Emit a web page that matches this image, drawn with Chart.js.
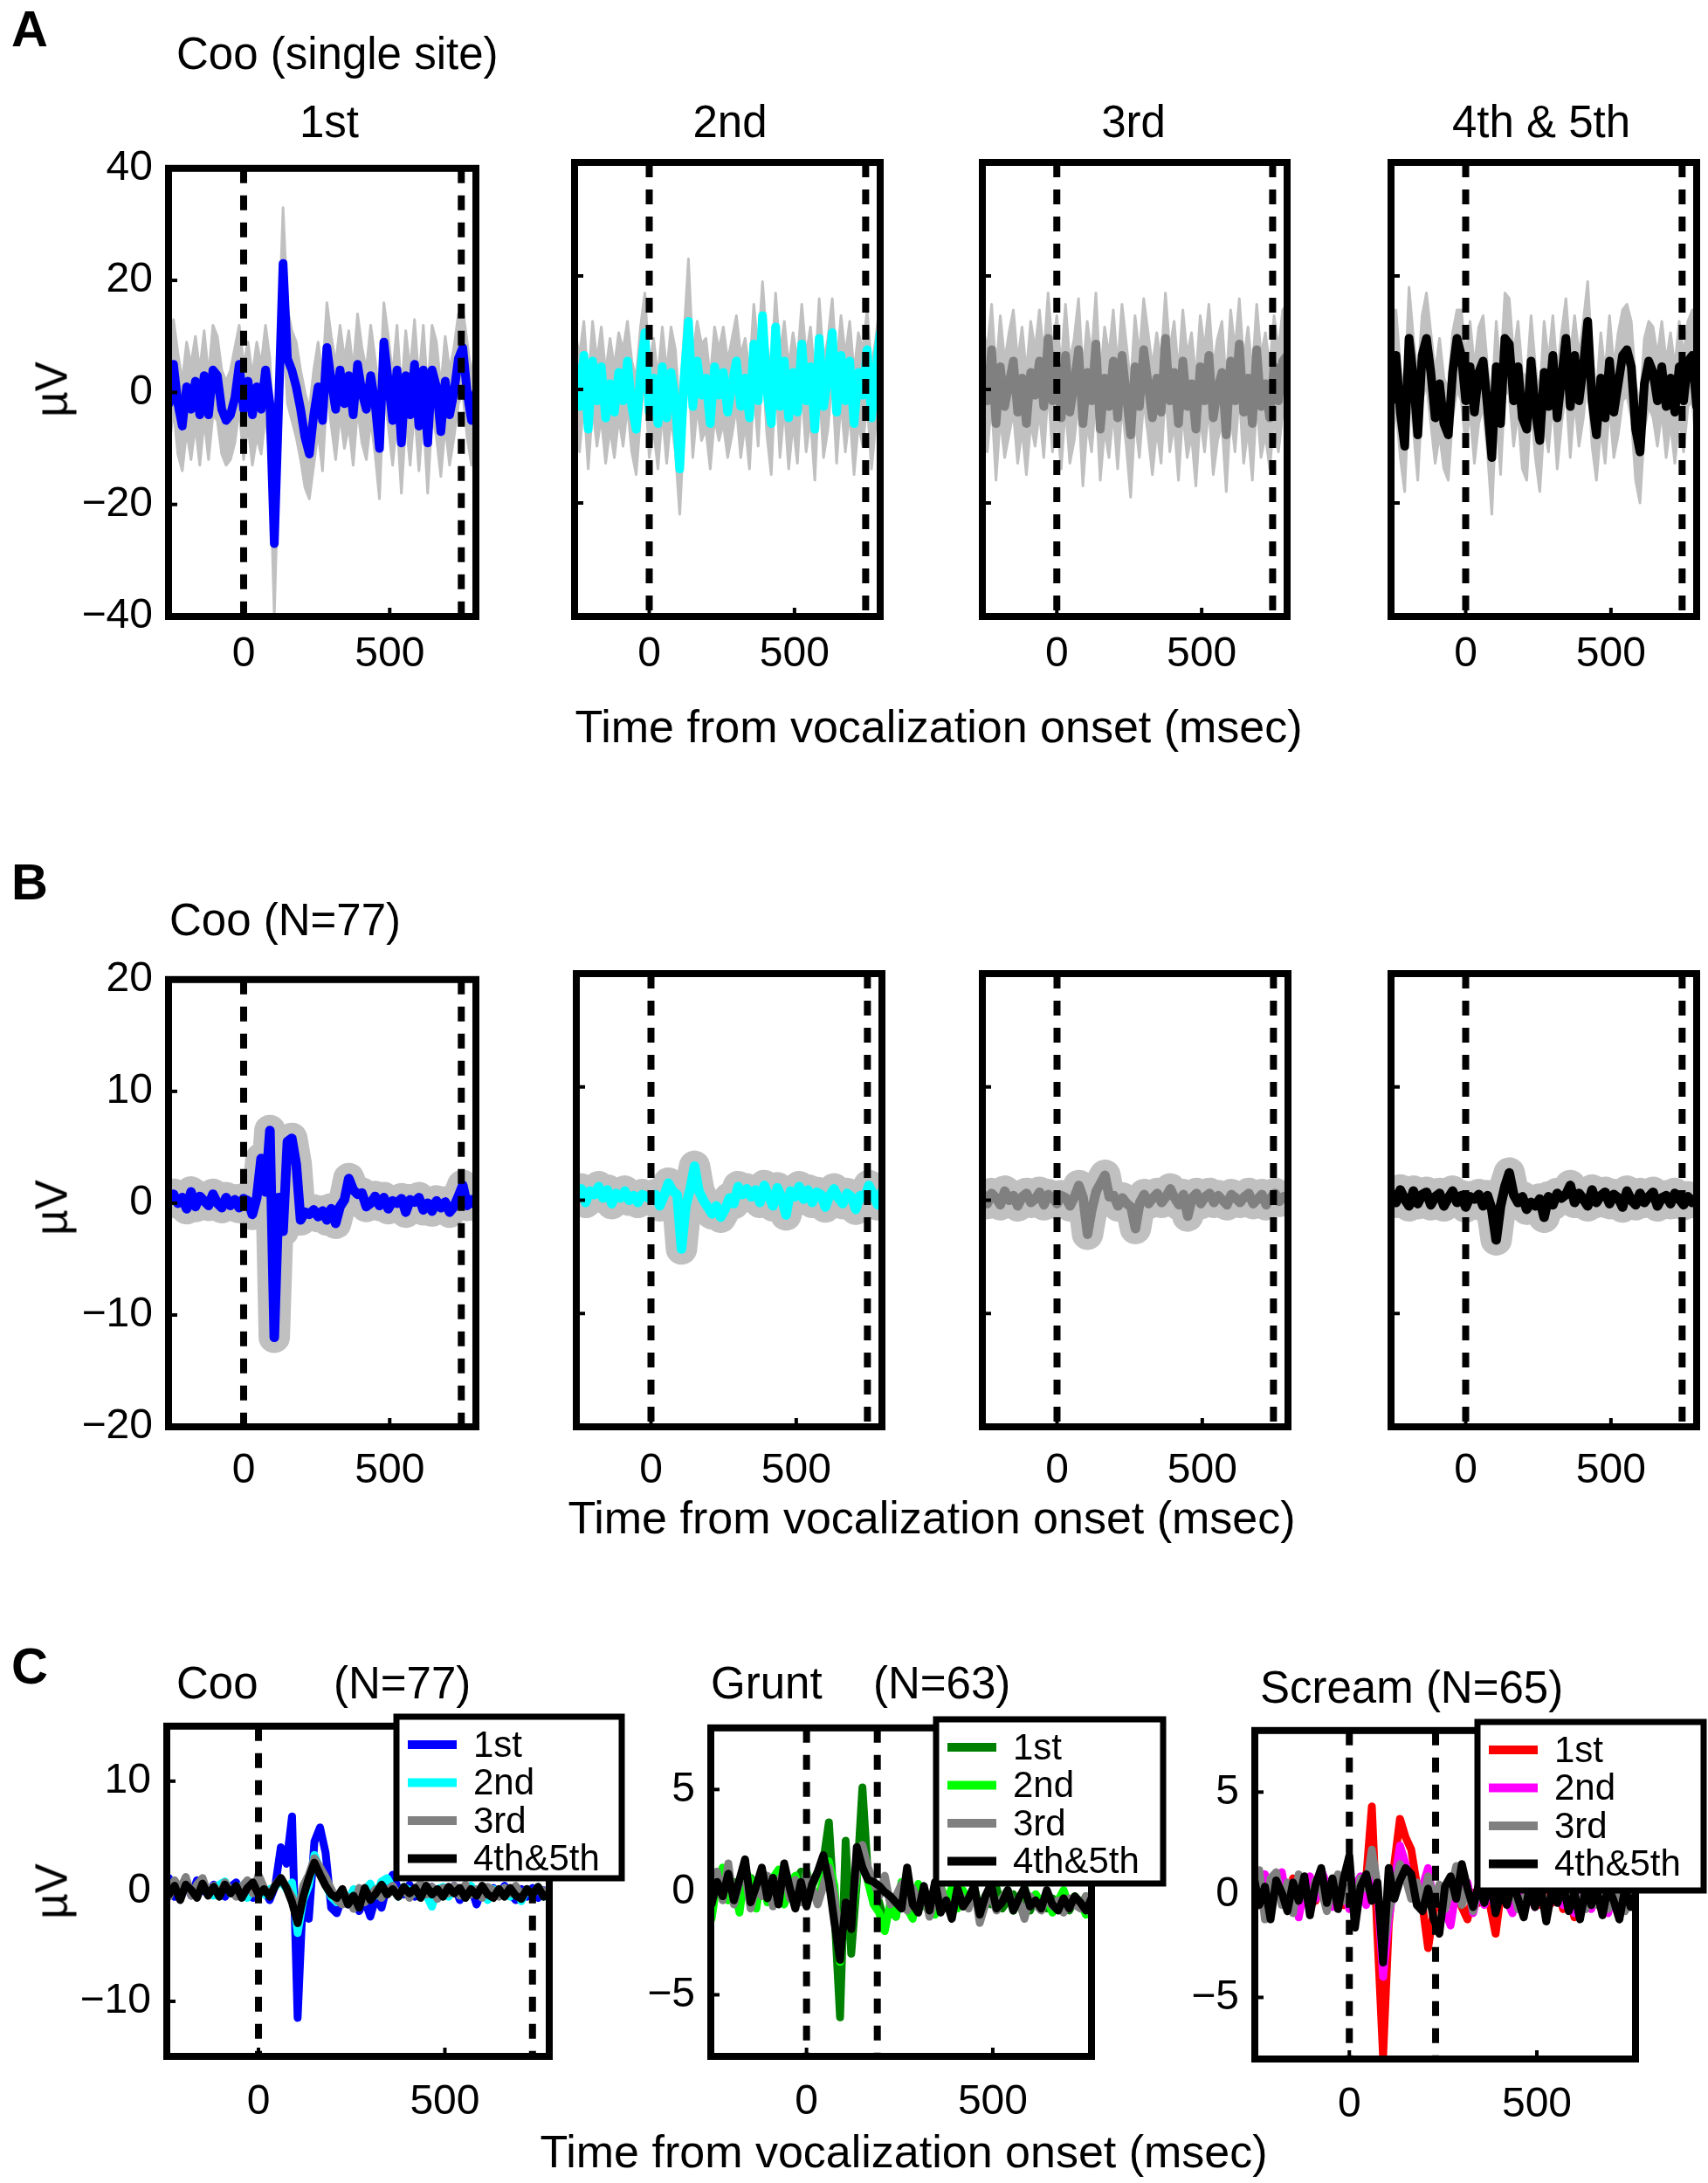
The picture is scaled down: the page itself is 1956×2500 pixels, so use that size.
<!DOCTYPE html>
<html>
<head>
<meta charset="utf-8">
<script src="https://cdn.jsdelivr.net/npm/chart.js@4.4.1/dist/chart.umd.min.js"></script>
<style>
html, body { margin: 0; padding: 0; background: #fff; }
#fig { position: relative; width: 1956px; height: 2500px; overflow: hidden; background: #fff;
       font-family: "Liberation Sans", Arial, Helvetica, sans-serif; color: #000; }
#fig canvas { position: absolute; }
.txt { position: absolute; white-space: nowrap; line-height: 1; }
</style>
</head>
<body>
<div id="fig"></div>
<script>
// time axis shared by every trace (msec from vocalization onset)
const timeMs = [
  -255, -240, -225, -210, -195, -180, -165, -150, -135, -120,
  -105, -90, -75, -60, -45, -30, -15, 0, 15, 30,
  45, 60, 75, 90, 105, 120, 135, 150, 165, 180,
  195, 210, 225, 240, 255, 270, 285, 300, 315, 330,
  345, 360, 375, 390, 405, 420, 435, 450, 465, 480,
  495, 510, 525, 540, 555, 570, 585, 600, 615, 630,
  645, 660, 675, 690, 705, 720, 735, 750, 765, 780,
  795
];

const xTickValues = [0, 500];
const aYTicks = [-40, -20, 0, 20, 40];
const bYTicks = [-20, -10, 0, 10, 20];
const c1YTicks = [-10, 0, 10];
const c23YTicks = [-5, 0, 5];

const rowTitlesA = ['1st', '2nd', '3rd', '4th & 5th'];
const legendLabels = ['1st', '2nd', '3rd', '4th&5th'];

// event markers (dashed lines), msec
const markersAB = [0, 745];
const markersC1 = [0, 735];
const markersC2 = [0, 190];
const markersC3 = [0, 230];

// ---------- A: Coo, single site (mean, upper and lower envelope) ----------
const a1Mean = [
  -2, 5, -2, -6, 1, -3, 2, -4, 3, -4,
  4, 3, -3, -5, -4, -1, 5, -3, 2, -4,
  1, -3, 4, -2, -27, -2, 23, 6, 4, 1,
  -3, -8, -11, -4, 1, -5, 8, 2, -3, 4,
  -2, 3, -4, 5, 0, -3, 3, -2, -10, 9,
  2, -5, 4, -9, 3, -4, 5, -6, 4, -9,
  4, 1, -7, 2, -4, 0, 6, 8, 0, -5,
  0
];
const a1Upper = [
  7, 13, 7, 2, 9, 5, 10, 4, 11, 3,
  12, 10, 4, 2, 4, 8, 12, 5, 9, 3,
  9, 5, 12, 6, -12, 10, 33, 15, 11, 9,
  4, 0, -3, 4, 9, 3, 16, 10, 5, 12,
  6, 11, 4, 14, 8, 4, 12, 6, -1, 16,
  10, 3, 12, 0, 11, 4, 13, 2, 12, 0,
  12, 9, 1, 10, 4, 8, 14, 15, 9, 3,
  9
];
const a1Lower = [
  -10, -3, -11, -14, -7, -12, -6, -13, -5, -12,
  -4, -5, -11, -13, -12, -9, -3, -12, -6, -13,
  -8, -11, -4, -12, -40, -12, 12, -2, -5, -8,
  -12, -17, -19, -13, -7, -14, 0, -6, -12, -4,
  -10, -6, -13, -3, -9, -12, -5, -11, -19, 1,
  -6, -13, -5, -18, -5, -13, -3, -14, -4, -18,
  -4, -8, -15, -6, -13, -8, -2, 0, -8, -13,
  -9
];

const a2Mean = [
  4, -3, 6, -7, 5, -2, 4, -5, 1, -4,
  3, -2, 5, -3, -7, 3, 10, -4, 2, -6,
  4, -5, 3, -2, -14, 2, 12, -3, 5, -1,
  2, -6, 4, -1, 3, -4, 1, 5, -3, 2,
  -5, 8, -2, 13, 0, -6, 11, -3, 5, -5,
  3, -4, 8, -2, 4, -7, 9, -3, 2, 10,
  -4, 6, -2, 5, -6, 3, -1, 7, -5, 3,
  10
];
const a2Upper = [
  10, 6, 12, 1, 12, 5, 11, 3, 9, 4,
  10, 7, 12, 5, 2, 11, 17, 4, 9, 2,
  11, 3, 11, 7, -4, 10, 23, 6, 12, 8,
  9, 2, 11, 7, 11, 5, 9, 13, 6, 9,
  3, 15, 7, 19, 8, 3, 17, 6, 12, 4,
  10, 5, 15, 6, 11, 2, 16, 5, 9, 16,
  4, 13, 6, 12, 3, 10, 7, 14, 4, 9,
  16
];
const a2Lower = [
  -4, -11, -2, -14, -3, -10, -5, -13, -7, -12,
  -5, -10, -3, -11, -15, -5, 2, -12, -7, -14,
  -4, -13, -5, -11, -22, -7, 4, -12, -3, -9,
  -7, -14, -5, -9, -6, -12, -8, -3, -12, -6,
  -14, 0, -10, 5, -8, -15, 3, -12, -3, -14,
  -6, -13, 0, -11, -5, -16, 1, -12, -7, 2,
  -13, -2, -11, -4, -15, -6, -10, -2, -14, -6,
  2
];

const a3Mean = [
  3, -2, 7, -6, 4, -3, 1, 5, -4, 2,
  -6, 3, -1, 5, -3, 9, -2, 4, -5, 6,
  -4, 1, 7, -6, 3, -2, 8, -7, 2, -3,
  5, -5, 6, -1, -8, 4, -3, 7, 1, -5,
  2, -4, 9, -2, 3, -6, 5, -3, 1, -7,
  4, -2, 6, -5, 0, 3, -8, 5, -2, 8,
  -4, 2, -6, 7, -3, 1, -5, 4, -2, 5,
  6
];
const a3Upper = [
  11, 7, 15, 3, 13, 5, 10, 14, 5, 11,
  3, 12, 7, 14, 6, 17, 7, 13, 4, 15,
  5, 9, 16, 3, 12, 6, 17, 2, 11, 6,
  14, 4, 15, 8, 1, 13, 6, 16, 10, 4,
  10, 5, 17, 7, 12, 3, 14, 6, 10, 2,
  13, 7, 15, 4, 9, 12, 1, 14, 7, 16,
  5, 11, 3, 15, 6, 10, 4, 13, 7, 14,
  15
];
const a3Lower = [
  -6, -11, -2, -16, -5, -12, -8, -4, -13, -7,
  -15, -6, -10, -4, -12, 0, -11, -5, -14, -3,
  -13, -9, -2, -17, -6, -11, -1, -16, -7, -12,
  -4, -14, -3, -10, -19, -5, -12, -2, -8, -15,
  -7, -13, 0, -11, -6, -16, -4, -12, -8, -17,
  -5, -11, -3, -15, -9, -6, -18, -4, -11, -1,
  -13, -7, -16, -2, -12, -8, -14, -5, -11, -4,
  -3
];

const a4Mean = [
  -2, 6, -4, -10, 9, 2, -8, 6, 9, 3,
  -5, 1, -6, -8, 3, 9, 6, -2, 4, -4,
  3, 5, -3, -12, 4, -6, 9, 8, -2, 4,
  -5, -7, 5, -4, -9, 3, -3, 6, -5, 2,
  9, -3, 6, -2, 4, 12, -2, -8, 2, -5,
  5, -4, 1, 6, 7, 4, -7, -11, 1, 5,
  3, -2, 4, -3, 2, -4, 4, -2, 5, 6,
  -3
];
const a4Upper = [
  5, 14, 4, -1, 18, 9, 2, 13, 17, 10,
  3, 9, 2, 0, 10, 14, 14, 6, 12, 4,
  11, 13, 4, -2, 12, 3, 17, 16, 6, 12,
  3, 2, 13, 4, -1, 12, 5, 13, 3, 10,
  16, 6, 13, 6, 12, 19, 6, -1, 10, 3,
  13, 4, 10, 14, 15, 12, 1, -3, 9, 12,
  11, 6, 12, 5, 10, 4, 12, 6, 12, 14,
  5
];
const a4Lower = [
  -10, -3, -12, -18, 0, -7, -16, -2, 1, -6,
  -13, -8, -14, -16, -5, 0, -2, -10, -4, -13,
  -6, -3, -11, -22, -4, -15, 0, -1, -10, -4,
  -14, -16, -3, -12, -18, -6, -11, -2, -14, -6,
  0, -12, -2, -10, -5, 3, -10, -16, -7, -13,
  -3, -12, -8, -2, -1, -5, -16, -20, -7, -3,
  -5, -10, -4, -12, -6, -13, -5, -11, -3, -2,
  -11
];

// ---------- B: Coo, population average (N=77) ----------
const b1Mean = [
  0.5, 0.8, 0, 0.5, -0.5, 1, -0.3, 0.6, 0.2, -0.2,
  0.8, 0, -0.4, 0.5, -0.2, 0.3, -0.4, 0.4, 0.2, -1,
  0.5, 4, 1, 6.5, -12, 0.5, -2.5, 5.5, 5.8, 3.5,
  -1.5, -0.8, -1, -0.6, -1.2, -0.7, -1.5, -0.5, -1.8, -0.3,
  0.3, 2.2, 1.2, 0.8, 0.9, -0.3, 0, 0.6, -0.2, 0.5,
  -0.5, 0.2, 0, 0.4, -0.8, 0.3, 0.1, 0.5, -0.6, 0,
  -0.7, 0.2, -0.4, 0.1, -0.8, -0.3, 0.6, 1.6, -0.2, 0.3,
  -0.2
];
const b2Mean = [
  0.3, 1.0, -0.2, 0.8, 0.5, 1.2, 0.2, 0.9, -0.3, 0.6,
  0.2, 0.8, 0, 0.4, -0.2, 0.5, 0.3, 0.1, 0.5, -0.5,
  0.4, 1.5, 0.8, 0.5, -4.3, -0.5, 1.0, 3.0, 0.8, 0,
  -0.6, -1.2, -0.5, -1.5, -0.8, 0.2, -0.3, 1.2, 0.5, 1.0,
  0.3, 0.9, -0.2, 1.3, 0.4, -0.5, 1.1, 0.2, -1.3, 0.8,
  0.3, 1.2, 0.1, 0.9, -0.2, 0.7, 0.5, -0.6, 0.4, 1.0,
  0.2, -0.3, 0.6, 0.3, -0.8, 0.4, 0.2, 1.3, 0.5, -0.4,
  0.8
];
const b3Mean = [
  0.5, -0.3, 0.6, 0.2, -0.4, 0.8, 0, 0.4, -0.5, 0.3,
  0.6, -0.2, 0.1, 0.7, -0.4, 0.5, 0.2, -0.3, 0.4, 0.2,
  -0.5, 0.3, 1.3, 0.2, -3.0, -0.8, 0.8, 1.5, 2.2, 0.3,
  0.4, -0.5, 0.2, -0.3, -0.6, -2.5, -0.2, 0.5, -0.3, 0.2,
  0.6, -0.2, 0.3, 1.0, 0.2, -0.4, 0.5, -1.4, 0.2, 0.6,
  -0.3, 0.3, 0.6, -0.2, 0.4, 0, -0.4, 0.5, 0.2, -0.2,
  0.3, 0.6, -0.3, 0.1, 0.5, -0.4, 0.2, 0.6, -0.1, 0.3,
  0.4
];
const b4Mean = [
  0.6, -0.2, 0.9, 0.1, -0.5, 0.8, -0.3, 0.5, 0.7, -0.4,
  0.3, 0.6, -0.5, 0.2, 0.8, -0.2, 0.4, -0.6, 0.3, 0.1,
  0.5, -0.5, 0.4, -0.8, -3.5, -0.5, 1.2, 2.4, 0.5, -0.2,
  0.3, -0.8, -0.2, -0.5, 0.1, -1.5, 0.3, -0.4, 0.6, 0.2,
  0.5, 1.3, -0.2, 0.6, 0.1, -0.5, 0.9, -0.2, 0.4, 0.7,
  -0.3, 0.5, 0.2, -0.6, 0.8, 0, -0.4, 0.6, -0.2, 0.3,
  0.7, -0.5, 0.2, 0.4, -0.3, 0.6, 0.1, -0.4, 0.3, -0.2,
  0.2
];

// ---------- C: population averages per call type ----------
const cooFirst = [
  0.5, 1.2, -0.5, 0.3, 0.8, -0.4, 1.0, 0.2, -0.3, 0.6,
  0.1, -0.5, 0.4, 0.8, -0.2, 0.3, -0.6, 0.5, 0.2, -0.8,
  0.5, 4.0, 2.5, 6.8, -11.5, 0.2, -2.5, 4.5, 5.8, 3.5,
  -1.5, -2.0, -0.5, -1.2, -0.3, -1.8, -0.8, -2.3, -0.5, -1.5,
  0.5, 1.5, 0.2, -0.3, 0.6, -0.5, 0.3, -0.2, 0.4, -0.6,
  0.2, -0.4, 0.5, -0.8, 0.1, 0.4, -1.2, 0.2, -0.5, 0.3,
  -0.3, 0.5, -0.2, -0.8, 0.2, -0.5, 0.3, -0.6, 0.1, -0.3,
  0
];
const cooSecond = [
  -0.8, 0.4, 0.9, -0.3, 0.5, 0.2, -0.5, 0.8, 0.1, -0.4,
  0.6, 0.9, -0.2, 0.3, 0.5, -0.6, 0.4, 0.7, -0.3, 0.2,
  0.4, 1.0, 0.2, 0.8, -3.8, -0.8, 0.5, 3.3, 2.0, 0.6,
  -0.5, -1.0, -0.3, -0.9, 0.2, -0.6, 0.1, 0.7, -0.4, 0.9,
  1.2, 0.3, -0.5, 0.4, 0.1, -0.2, 0.5, -0.3, -1.4, 0.2,
  0.4, -0.5, 0.3, 0.0, -0.6, 0.5, -0.2, 0.3, -0.8, 0.2,
  -0.4, 0.3, -0.5, 0.1, -0.9, 0.2, -0.3, 0.4, -0.5, -0.2,
  0.3
];
const cooThird = [
  0.3, -0.5, 1.0, 0.2, 1.3, -0.4, 0.6, 1.2, -0.2, 0.5,
  -0.3, 0.8, 0.1, -0.5, 0.4, 1.0, -0.2, 1.5, 0.3, -0.4,
  0.6, 1.2, 0.4, -0.5, -2.0, 0.5, 1.5, 3.0, 2.2, 1.3,
  0.2, -0.8, -1.2, -0.5, -1.6, 0.3, -1.0, -0.4, 0.2, -0.6,
  0.1, 0.5, -0.4, 0.3, -0.6, 0.2, 0.7, -0.3, 0.4, -0.7,
  0.3, -0.2, 0.5, -0.4, 0.6, -0.3, 0.2, -0.6, 0.4, 0.1,
  -0.5, 0.3, -0.2, 0.5, -0.4, 0.2, -0.3, 0.4, -0.1, 0.2,
  -0.2
];
const cooLater = [
  0.8, -0.3, 0.5, -0.8, 0.6, 0.1, -0.6, 0.7, -0.4, 0.4,
  -0.5, 0.6, -0.2, 0.5, -0.6, 0.3, 0.8, -0.3, 0.2, -0.5,
  0.5, 1.2, 0.3, -1.0, -2.9, -0.5, 1.2, 2.6, 1.5, 0.5,
  -0.3, -0.6, 0.2, -1.2, -0.4, -1.5, 0.3, -0.8, -0.2, 0.6,
  -0.3, 0.2, -0.5, 0.4, -0.2, 0.3, -0.6, 0.5, -0.3, 0.2,
  -0.5, 0.4, -0.2, 0.3, -0.6, 0.2, -0.4, 0.5, -0.3, -0.6,
  0.2, -0.5, 0.3, -0.4, -0.7, 0.2, -0.3, 0.4, -0.5, -0.2,
  0.1
];

const gruntFirst = [
  -0.5, 0.4, 0.8, -0.3, 0.5, -0.6, 0.2, 0.7, -0.4, 0.3,
  0.6, -0.5, 0.1, 0.8, -0.3, 0.4, 1.0, -0.2, 0.3, 0.9,
  1.5, 3.4, -1.0, -6.1, 2.5, -3.0, 0.5, 5.1, 0.8, 0.3,
  -0.5, -1.5, -0.8, -1.2, 0.3, -0.6, -0.9, 0.2, -0.5, -1.0,
  0.4, -0.8, -0.3, -1.0, 0.2, -0.7, -0.4, 0.1, -0.9, -0.3,
  -0.6, 0.2, -0.8, -0.4, -0.1, -0.7, -0.3, -0.9, -0.2, -0.5,
  -0.8, -0.3, -0.6, -0.1, -0.9, -0.4, -0.7, -0.2, -0.6, -0.5,
  -0.4
];
const gruntSecond = [
  -1.3, 0.5, 1.2, -0.4, 0.3, -1.0, 1.0, 0.6, -0.8, 0.9,
  -0.5, 0.7, 1.1, -0.6, 0.4, 0.8, -0.3, 1.0, 0.2, -0.4,
  0.6, 1.5, 0.3, -3.4, -0.8, -1.5, 0.8, 1.8, 0.5, -0.6,
  -1.0, -1.9, -0.5, -1.2, 0.5, -0.8, -1.3, 0.4, -0.6, -0.2,
  -1.1, 0.3, -0.5, 0.2, -0.8, 0.1, -0.6, 0.3, -1.0, -0.2,
  0.2, -0.7, -0.3, 0.1, -0.9, -0.4, 0.2, -0.6, -0.1, -0.5,
  -0.3, -1.0, -0.4, 0.1, -0.7, -0.2, -0.5, -1.1, -0.3, -0.6,
  -0.7
];
const gruntThird = [
  0.2, 1.0, -0.4, 1.4, -0.6, 0.5, 0.9, -0.8, 0.3, -0.2,
  0.8, -0.7, 0.4, 1.1, -0.3, 0.6, -0.5, 0.9, 0.2, -0.6,
  0.3, 1.2, -0.2, -2.8, -0.5, -0.9, 1.0, 2.3, 1.2, 0.5,
  -0.2, 0.8, -0.6, -0.2, 0.4, -0.9, 0.2, -0.5, 0.1, -1.2,
  -0.3, 0.2, -0.6, -1.0, 0.1, -0.4, -0.8, 0.3, -1.5, -0.6,
  -0.1, -0.9, -0.3, 0.1, -0.7, -0.4, -1.3, -0.2, -0.6, -0.9,
  -0.2, -0.7, -0.4, -1.0, -0.3, -0.6, -0.8, -0.2, -1.1, -0.5,
  -0.8
];
const gruntLater = [
  -0.6, 0.5, -0.2, 0.9, -0.4, 0.6, 1.6, -0.5, 0.3, 1.2,
  -0.3, 0.7, -0.6, 1.4, 0.2, -0.8, 0.5, -0.7, 0.4, 1.0,
  1.8, 0.5, -1.5, -3.3, -0.5, -1.8, 2.2, 1.2, 0.6, 0.5,
  0.3, 0.0, -0.2, -0.5, -0.8, 1.2, -0.6, -1.0, 0.3, -0.9,
  0.5, -1.0, -0.4, -1.3, 0.2, -0.7, -0.3, 0.3, -1.1, -0.2,
  0.4, -0.8, -0.5, 0.1, -0.9, -0.3, 0.2, -0.7, -0.4, -0.8,
  0.1, -0.6, -0.9, -0.3, -0.8, -0.2, -0.5, -0.9, -0.3, -0.6,
  -0.4
];

const screamFirst = [
  0.4, -0.5, 0.3, -0.8, 0.6, 0.1, -0.4, 0.8, -0.6, 0.2,
  0.5, -0.3, 0.6, -0.7, 0.3, 0.4, -0.5, 0.2, -0.3, 0.4,
  0.8, 4.3, -2.0, -7.9, -1.5, 1.5, 3.7, 2.8, 2.2, 0.5,
  -0.5, -2.6, -0.8, -0.2, 0.4, -0.3, 0.2, -0.6, -1.2, 0.1,
  -0.4, 0.3, -0.5, -1.9, 0.2, -0.3, 0.5, -0.6, 0.1, -0.2,
  0.3, -0.5, 0.2, -0.4, 0.4, -0.7, 0.1, -1.1, 0.3, -0.2,
  -0.5, 0.2, -0.3, 0.4, -0.6, 0.1, -0.2, 0.3, -0.4, 0.2,
  0
];
const screamSecond = [
  0.8, 0.3, 1.0, -0.5, 0.7, 1.1, -0.4, 0.6, -1.1, 0.3,
  0.9, -0.2, 1.2, 0.5, -0.6, 0.8, 0.2, -0.7, 0.4, 0.9,
  -0.5, 1.0, 0.2, -4.0, -1.2, 0.6, 2.4, 1.5, 0.5, -0.3,
  0.4, 1.3, -0.5, 0.2, -0.8, -1.5, 0.3, -0.4, 0.6, -0.9,
  0.2, -0.5, 0.4, -0.8, 0.1, -0.3, -0.9, 0.5, -0.4, 0.2,
  -0.6, 0.3, -0.8, -0.2, 0.4, -0.5, 0.1, -0.9, 0.2, -0.3,
  -0.7, 0.2, -0.4, -0.9, 0.3, -0.2, -0.6, 0.1, -0.5, -0.3,
  -0.1
];
const screamThird = [
  -0.3, 1.2, -1.2, 0.8, 1.1, -0.5, 0.6, -0.9, 1.0, 0.2,
  -0.6, 0.7, 0.3, -0.8, 0.5, 1.0, -0.3, 0.4, -0.5, 0.8,
  0.3, 2.2, 0.5, -2.8, -0.8, 0.3, 1.5, 0.8, -0.2, 0.6,
  -0.4, 0.9, -0.3, 0.5, -0.7, 0.2, 1.4, -0.5, 0.3, -0.8,
  0.4, -0.3, 0.6, -0.6, 0.2, -0.4, 0.5, -0.7, -0.2, 0.3,
  -0.5, 0.4, -0.8, 0.1, -0.3, 0.5, -0.6, 0.2, -0.4, -0.7,
  0.3, -0.5, 0.1, -0.7, 0.2, -0.3, -0.8, 0.4, -0.2, -0.5,
  0.1
];
const screamLater = [
  0.9, -0.5, 0.4, -1.2, 0.7, 0.1, -0.8, 0.6, -0.3, 0.9,
  -1.0, 0.5, 1.3, -0.4, 0.8, -0.7, 0.8, 1.9, -1.6, 0.4,
  1.0, -0.3, 0.6, -3.3, 1.3, -0.2, 0.7, 1.3, 1.0, -0.5,
  -0.8, 0.3, -1.2, -1.9, 0.4, 0.9, -0.2, 1.5, 0.3, -0.6,
  0.5, -0.4, 0.8, -0.9, 0.2, -0.5, 0.6, -0.2, -1.1, 0.3,
  -0.6, 0.4, -1.3, 0.2, -0.4, 0.5, -0.8, 0.1, -1.2, 0.3,
  -0.5, 0.2, -1.0, 0.4, -0.3, -1.2, 0.3, -0.6, 0.1, 0.4,
  0.2
];

// ---------- layout & styles ----------
const FONT = '"Liberation Sans", Arial, Helvetica, sans-serif';
const BAND = '#c0c0c0';
const fig = document.getElementById('fig');

const panels = [
  { id: 'A1', box: [193, 186, 545, 706], xr: [-257, 795], yr: [-40, 40], yTicks: aYTicks, yLabels: true, marks: markersAB, lw: 10, tickPad: 15,
    traces: [{ label: rowTitlesA[0], data: a1Mean, color: '#0000ff' }], band: [a1Upper, a1Lower] },
  { id: 'A2', box: [658, 186, 1008, 706], xr: [-257, 795], yr: [-40, 40], yTicks: aYTicks, yLabels: false, marks: markersAB, lw: 10, tickPad: 15,
    traces: [{ label: rowTitlesA[1], data: a2Mean, color: '#00ffff' }], band: [a2Upper, a2Lower] },
  { id: 'A3', box: [1125, 186, 1474, 706], xr: [-257, 795], yr: [-40, 40], yTicks: aYTicks, yLabels: false, marks: markersAB, lw: 10, tickPad: 15,
    traces: [{ label: rowTitlesA[2], data: a3Mean, color: '#808080' }], band: [a3Upper, a3Lower] },
  { id: 'A4', box: [1593, 186, 1943, 706], xr: [-257, 795], yr: [-40, 40], yTicks: aYTicks, yLabels: false, marks: markersAB, lw: 10, tickPad: 15,
    traces: [{ label: rowTitlesA[3], data: a4Mean, color: '#000000' }], band: [a4Upper, a4Lower] },

  { id: 'B1', box: [193, 1115, 545, 1634], xr: [-257, 795], yr: [-20, 20], yTicks: bYTicks, yLabels: true, marks: markersAB, lw: 11, tickPad: 22,
    traces: [{ label: rowTitlesA[0], data: b1Mean, color: '#0000ff' }], sem: 36 },
  { id: 'B2', box: [660, 1115, 1010, 1634], xr: [-257, 795], yr: [-20, 20], yTicks: bYTicks, yLabels: false, marks: markersAB, lw: 11, tickPad: 22,
    traces: [{ label: rowTitlesA[1], data: b2Mean, color: '#00ffff' }], sem: 36 },
  { id: 'B3', box: [1125, 1115, 1475, 1634], xr: [-257, 795], yr: [-20, 20], yTicks: bYTicks, yLabels: false, marks: markersAB, lw: 11, tickPad: 22,
    traces: [{ label: rowTitlesA[2], data: b3Mean, color: '#808080' }], sem: 36 },
  { id: 'B4', box: [1593, 1115, 1943, 1634], xr: [-257, 795], yr: [-20, 20], yTicks: bYTicks, yLabels: false, marks: markersAB, lw: 11, tickPad: 22,
    traces: [{ label: rowTitlesA[3], data: b4Mean, color: '#000000' }], sem: 36 },

  { id: 'C1', box: [191, 1970, 629, 2355], xr: [-246, 780], yr: [-15, 15], yTicks: c1YTicks, yLabels: true, marks: markersC1, lw: 9, tickPad: 24,
    legend: [454, 1966, 712, 2151],
    traces: [
      { label: legendLabels[0], data: cooFirst, color: '#0000ff' },
      { label: legendLabels[1], data: cooSecond, color: '#00ffff' },
      { label: legendLabels[2], data: cooThird, color: '#808080' },
      { label: legendLabels[3], data: cooLater, color: '#000000' }] },
  { id: 'C2', box: [814, 1972, 1250, 2355], xr: [-257, 765], yr: [-8, 8], yTicks: c23YTicks, yLabels: true, marks: markersC2, lw: 9, tickPad: 24,
    legend: [1072, 1969, 1332, 2157],
    traces: [
      { label: legendLabels[0], data: gruntFirst, color: '#008000' },
      { label: legendLabels[1], data: gruntSecond, color: '#00ff00' },
      { label: legendLabels[2], data: gruntThird, color: '#808080' },
      { label: legendLabels[3], data: gruntLater, color: '#000000' }] },
  { id: 'C3', box: [1437, 1975, 1873, 2358], xr: [-252, 763], yr: [-8, 8], yTicks: c23YTicks, yLabels: true, marks: markersC3, lw: 9, tickPad: 24,
    legend: [1692, 1972, 1951, 2165],
    traces: [
      { label: legendLabels[0], data: screamFirst, color: '#ff0000' },
      { label: legendLabels[1], data: screamSecond, color: '#ff00ff' },
      { label: legendLabels[2], data: screamThird, color: '#808080' },
      { label: legendLabels[3], data: screamLater, color: '#000000' }] }
];

function pts(vals) {
  return vals.map((v, i) => ({ x: timeMs[i], y: v }));
}

function minusSign(v) {
  return String(v).replace('-', '\u2212');
}

// dashed markers, box frame, inner ticks and the floating legend
function framePlugin(p, ox, oy) {
  return {
    id: 'frame' + p.id,
    afterDatasetsDraw(chart) {
      const ctx = chart.ctx;
      const a = chart.chartArea;
      const xs = chart.scales.x, ys = chart.scales.y;
      ctx.save();
      ctx.strokeStyle = '#000';
      ctx.lineWidth = 8;
      ctx.setLineDash([17, 14]);
      p.marks.forEach(m => {
        const px = xs.getPixelForValue(m);
        ctx.beginPath(); ctx.moveTo(px, a.top); ctx.lineTo(px, a.bottom); ctx.stroke();
      });
      ctx.setLineDash([]);
      ctx.lineWidth = 4;
      ys.ticks.forEach(t => {
        const py = ys.getPixelForValue(t.value);
        ctx.beginPath(); ctx.moveTo(a.left, py); ctx.lineTo(a.left + 10, py); ctx.stroke();
      });
      xs.ticks.forEach(t => {
        const px = xs.getPixelForValue(t.value);
        ctx.beginPath(); ctx.moveTo(px, a.bottom); ctx.lineTo(px, a.bottom - 10); ctx.stroke();
      });
      ctx.lineWidth = 8;
      ctx.strokeRect(a.left, a.top, a.right - a.left, a.bottom - a.top);

      if (p.legend) {
        const L = p.legend;
        const lx = L[0] - ox, ly = L[1] - oy, lw = L[2] - L[0], lh = L[3] - L[1];
        ctx.fillStyle = '#fff';
        ctx.fillRect(lx, ly, lw, lh);
        ctx.lineWidth = 7;
        ctx.strokeRect(lx, ly, lw, lh);
        ctx.font = '42px ' + FONT;
        ctx.textBaseline = 'middle';
        chart.data.datasets.filter(d => d.inLegend).forEach((d, k) => {
          const ry = ly + 32 + k * 43.5;
          ctx.strokeStyle = d.borderColor;
          ctx.lineWidth = 10;
          ctx.beginPath(); ctx.moveTo(lx + 13, ry); ctx.lineTo(lx + 69, ry); ctx.stroke();
          ctx.fillStyle = '#000';
          ctx.fillText(d.label, lx + 88, ry + 2);
        });
      }
      ctx.restore();
    }
  };
}

function makePanel(p) {
  const padL = p.yLabels ? 150 : 20;
  const padT = 40;
  const padR = p.legend ? 90 : 20;
  const padB = 90;
  const bw = p.box[2] - p.box[0], bh = p.box[3] - p.box[1];
  const ox = p.box[0] - padL, oy = p.box[1] - padT;

  const cv = document.createElement('canvas');
  cv.width = bw + padL + padR;
  cv.height = bh + padT + padB;
  cv.style.left = ox + 'px';
  cv.style.top = oy + 'px';
  cv.style.width = cv.width + 'px';
  cv.style.height = cv.height + 'px';
  fig.appendChild(cv);

  const n = p.traces.length;
  const datasets = p.traces.map((tr, k) => ({
    label: tr.label,
    data: pts(tr.data),
    borderColor: tr.color,
    borderWidth: p.lw,
    inLegend: true,
    order: n - 1 - k,
    clip: 0
  }));
  if (p.band) {
    datasets.push({ data: pts(p.band[0]), borderColor: BAND, backgroundColor: BAND, borderWidth: 3, fill: '+1', order: 20, clip: 0 });
    datasets.push({ data: pts(p.band[1]), borderColor: BAND, borderWidth: 3, fill: false, order: 21, clip: 0 });
  }
  if (p.sem) {
    datasets.push({ data: pts(p.traces[0].data), borderColor: BAND, borderWidth: p.sem, order: 20, clip: 0 });
  }

  const tickFont = { family: FONT, size: 48 };

  new Chart(cv, {
    type: 'line',
    data: { datasets: datasets },
    options: {
      responsive: false,
      animation: false,
      devicePixelRatio: 1,
      layout: { padding: { left: 0, top: padT, right: padR, bottom: 0 } },
      elements: {
        point: { radius: 0 },
        line: { tension: 0, borderJoinStyle: 'round', borderCapStyle: 'round', fill: false }
      },
      plugins: { legend: { display: false }, tooltip: { enabled: false } },
      scales: {
        x: {
          type: 'linear', min: p.xr[0], max: p.xr[1],
          afterBuildTicks: s => { s.ticks = xTickValues.map(v => ({ value: v })); },
          afterFit: s => { s.height = padB; },
          grid: { display: false, drawTicks: false },
          border: { display: false },
          ticks: { font: tickFont, color: '#000', padding: p.tickPad, maxRotation: 0, autoSkip: false, callback: v => minusSign(v) }
        },
        y: {
          type: 'linear', min: p.yr[0], max: p.yr[1],
          afterBuildTicks: s => { s.ticks = p.yTicks.map(v => ({ value: v })); },
          afterFit: s => { s.width = padL; },
          grid: { display: false, drawTicks: false },
          border: { display: false },
          ticks: { display: p.yLabels, font: tickFont, color: '#000', padding: 18, autoSkip: false, callback: v => minusSign(v) }
        }
      }
    },
    plugins: [framePlugin(p, ox, oy)]
  });
}

panels.forEach(makePanel);

// ---------- text ----------
const texts = [
  { t: 'A', x: 13, y: 33, size: 58, bold: true },
  { t: 'Coo (single site)', x: 202, y: 61, size: 51 },
  { t: rowTitlesA[0], x: 377, y: 139, size: 51, center: true },
  { t: rowTitlesA[1], x: 836, y: 139, size: 51, center: true },
  { t: rowTitlesA[2], x: 1298, y: 139, size: 51, center: true },
  { t: rowTitlesA[3], x: 1765, y: 139, size: 51, center: true },
  { t: '\u00b5V', x: 59, y: 446, size: 51, rot: true },
  { t: 'Time from vocalization onset (msec)', x: 1075, y: 832, size: 52, center: true },

  { t: 'B', x: 13, y: 1010, size: 58, bold: true },
  { t: 'Coo (N=77)', x: 194, y: 1053, size: 51 },
  { t: '\u00b5V', x: 59, y: 1383, size: 51, rot: true },
  { t: 'Time from vocalization onset (msec)', x: 1067, y: 1738, size: 52, center: true },

  { t: 'C', x: 13, y: 1908, size: 58, bold: true },
  { t: 'Coo', x: 202, y: 1927, size: 51 },
  { t: '(N=77)', x: 382, y: 1927, size: 51 },
  { t: 'Grunt', x: 814, y: 1927, size: 51 },
  { t: '(N=63)', x: 1000, y: 1927, size: 51 },
  { t: 'Scream (N=65)', x: 1443, y: 1932, size: 51 },
  { t: '\u00b5V', x: 59, y: 2166, size: 51, rot: true },
  { t: 'Time from vocalization onset (msec)', x: 1035, y: 2464, size: 52, center: true }
];

texts.forEach(l => {
  const d = document.createElement('div');
  d.className = 'txt';
  d.textContent = l.t;
  d.style.fontSize = l.size + 'px';
  if (l.bold) d.style.fontWeight = 'bold';
  d.style.left = l.x + 'px';
  d.style.top = l.y + 'px';
  let tf = 'translateY(-50%)';
  if (l.center) tf = 'translate(-50%, -50%)';
  if (l.rot) tf = 'translate(-50%, -50%) rotate(-90deg)';
  d.style.transform = tf;
  fig.appendChild(d);
});
</script>
</body>
</html>
